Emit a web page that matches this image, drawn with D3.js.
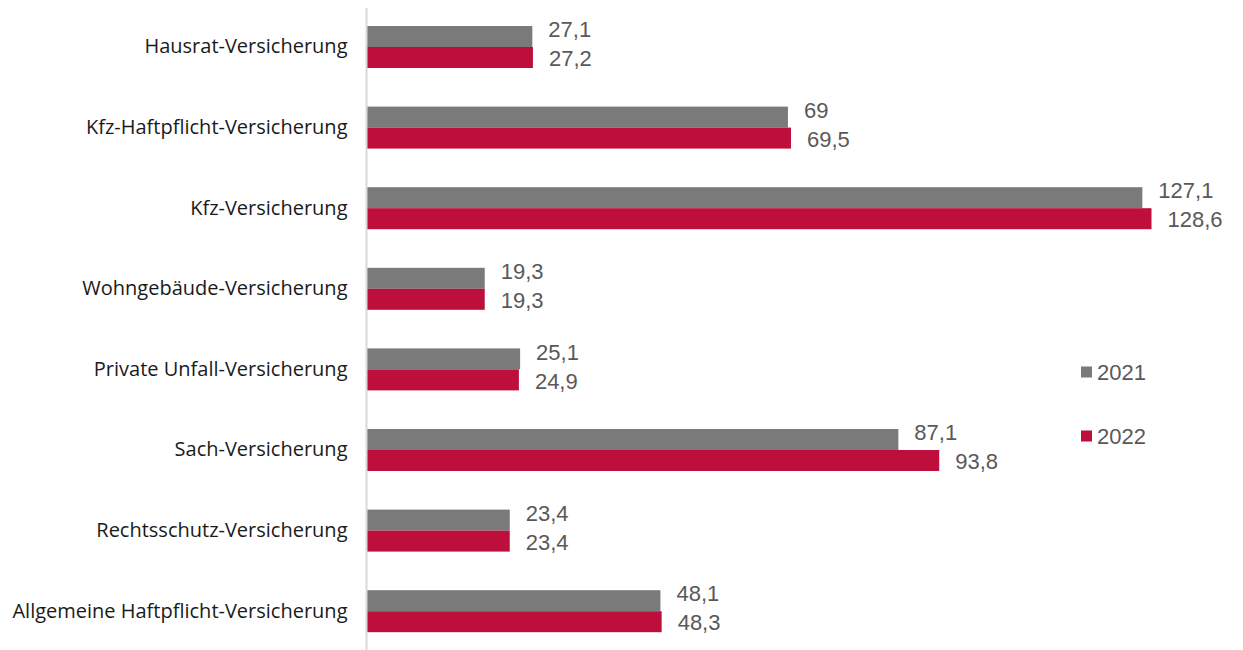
<!DOCTYPE html>
<html><head><meta charset="utf-8">
<script src="https://cdn.jsdelivr.net/npm/d3@7"></script>
<style>body{margin:0;background:#fff}svg{display:block}</style>
</head><body>
<script>
const categories = ["Hausrat-Versicherung","Kfz-Haftpflicht-Versicherung","Kfz-Versicherung","Wohngebäude-Versicherung","Private Unfall-Versicherung","Sach-Versicherung","Rechtsschutz-Versicherung","Allgemeine Haftpflicht-Versicherung"];
const series = ["2021","2022"];
const values2021 = [27.1,69,127.1,19.3,25.1,87.1,23.4,48.1];
const values2022 = [27.2,69.5,128.6,19.3,24.9,93.8,23.4,48.3];
const colors = ["#7a7a7a","#be0f3c"];

const W=1243,H=650;
const svg=d3.select("body").append("svg").attr("width",W).attr("height",H);
const font="'Liberation Sans', Arial, sans-serif";
const x=d3.scaleLinear().domain([0,128.6]).range([367,1151.5]);
const y=d3.scaleBand().domain(categories).range([6.7,651.5]).paddingInner(0.479).paddingOuter(0.2395);
const y1=d3.scaleBand().domain(series).range([0,y.bandwidth()]);
const data=[values2021,values2022];
const fmt=v=>String(v).replace(".",",");

categories.forEach((c,i)=>{
  series.forEach((s,j)=>{
    const v=data[j][i];
    svg.append("rect").attr("x",x(0)).attr("y",y(c)+y1(s)).attr("width",x(v)-x(0)).attr("height",y1.bandwidth()).attr("fill",colors[j]);
    svg.append("text").attr("x",x(v)+16).attr("y",y(c)+y1(s)+y1.bandwidth()/2+(j==0?-7:1)).attr("dy","0.35em")
      .attr("font-family",font).attr("font-size",22).attr("fill","#595959").text(fmt(v));
  });
});
const yAxis=d3.axisLeft(y).tickSize(0).tickPadding(19);
const g=svg.append("g").attr("transform","translate(366.5,0)").call(yAxis);
g.select(".domain").remove();
g.selectAll("text").attr("font-family","'Open Sans', sans-serif").attr("font-size",20).attr("fill","#1a1a1a");
svg.append("line").attr("x1",366.5).attr("x2",366.5).attr("y1",8).attr("y2",650).attr("stroke","#d9d9d9").attr("stroke-width",2);

const leg=svg.append("g");
series.forEach((s,j)=>{
  const ly=372+j*64;
  leg.append("rect").attr("x",1081).attr("y",ly-5.5).attr("width",11).attr("height",11).attr("fill",colors[j]);
  leg.append("text").attr("x",1097).attr("y",ly).attr("dy","0.35em").attr("font-family",font).attr("font-size",22).attr("fill","#595959").text(s);
});
</script>
</body></html>
